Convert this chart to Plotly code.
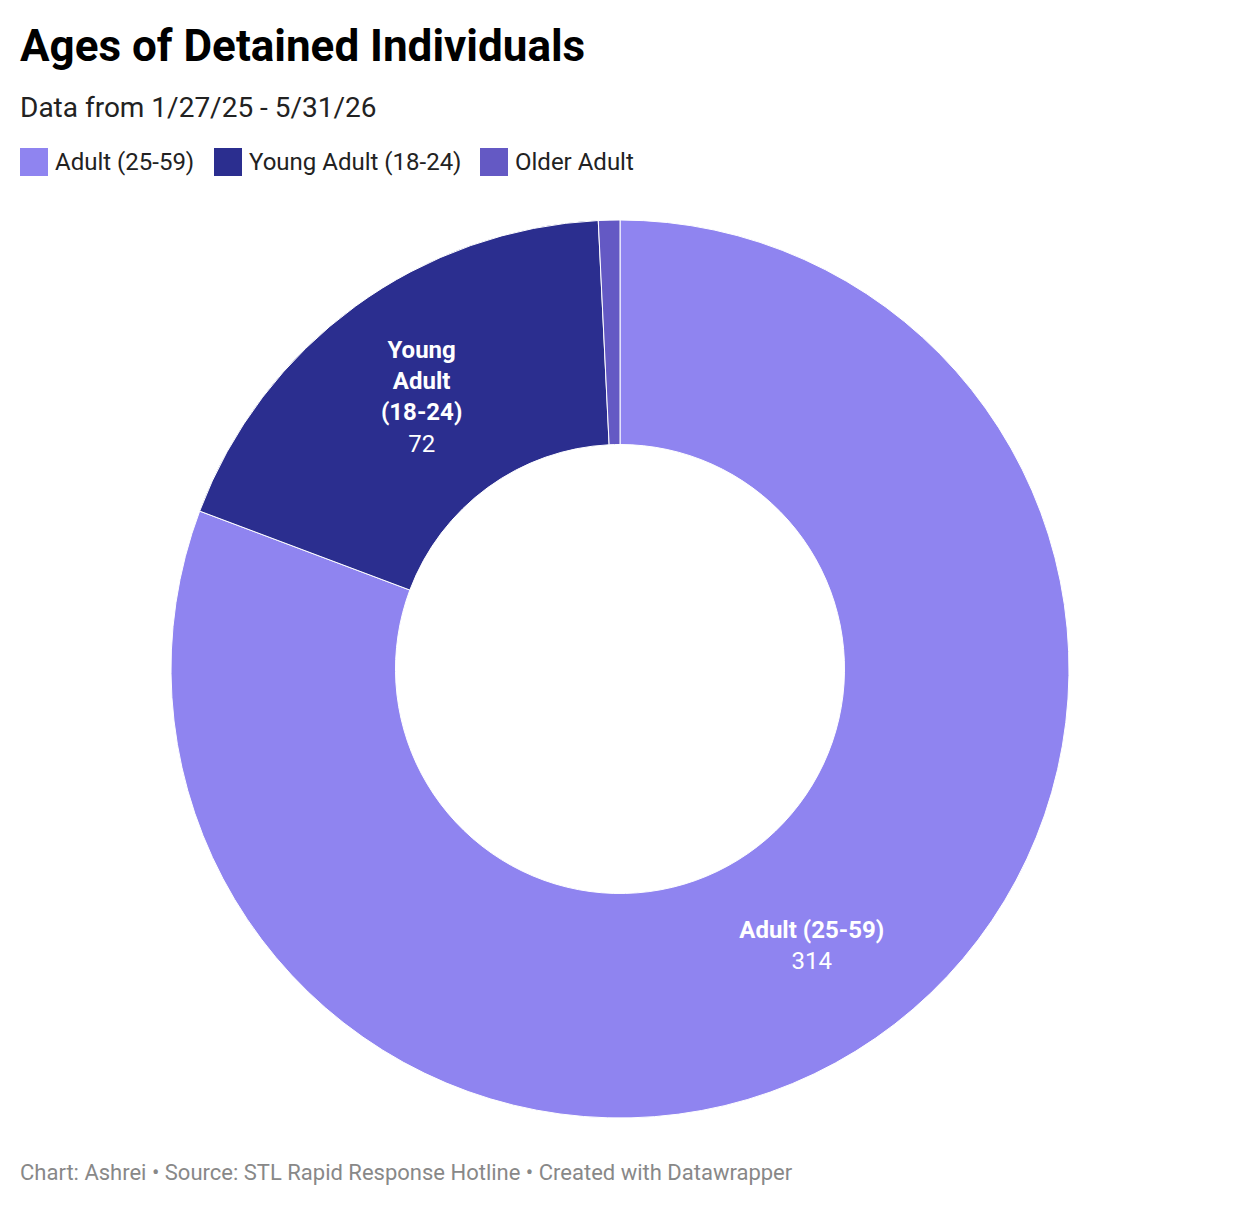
import plotly.graph_objects as go

labels = ["Adult (25-59)", "Young Adult (18-24)", "Older Adult"]
values = [314, 72, 3]
colors = ["#8f84f0", "#2b2e8f", "#6459c4"]
slice_text = ["<b>Adult (25-59)</b><br>314", "<b>Young<br>Adult<br>(18-24)</b><br>72", ""]

W, H = 1240, 1206
OFF = 8  # page body margin


def px(x):
    return (x - OFF) / W


def py(y):
    return 1 - (y - OFF) / H


cx, cy, r = 620, 669, 449

fig = go.Figure(go.Pie(
    labels=labels, values=values, sort=False, direction="clockwise", rotation=0,
    hole=0.5, marker=dict(colors=colors, line=dict(color="white", width=1)),
    text=slice_text, textinfo="text", textposition="inside",
    insidetextorientation="horizontal",
    textfont=dict(family="Roboto", size=24, color="white"),
    hoverinfo="label+value", showlegend=False,
    domain=dict(x=[px(cx - r), px(cx + r)], y=[py(cy + r), py(cy - r)]),
))

# legend drawn as squares + labels (Datawrapper style)
legend_x = [20, 214, 480]
shapes, annotations = [], []
for lab, col, x0 in zip(labels, colors, legend_x):
    shapes.append(dict(type="rect", xref="paper", yref="paper",
                       x0=px(x0), x1=px(x0 + 28), y0=py(176), y1=py(148),
                       fillcolor=col, line=dict(width=0)))
    annotations.append(dict(text=lab, x=px(x0 + 33), y=py(162), xref="paper", yref="paper",
                            xanchor="left", yanchor="middle", showarrow=False,
                            font=dict(size=24, color="#222")))

annotations += [
    dict(text="<b>Ages of Detained Individuals</b>", x=px(18), y=py(46), xref="paper", yref="paper",
         xanchor="left", yanchor="middle", showarrow=False, font=dict(size=44, color="#000")),
    dict(text="Data from 1/27/25 - 5/31/26", x=px(18), y=py(107), xref="paper", yref="paper",
         xanchor="left", yanchor="middle", showarrow=False, font=dict(size=28, color="#222")),
    dict(text="Chart: Ashrei • Source: STL Rapid Response Hotline • Created with Datawrapper",
         x=px(18), y=py(1172), xref="paper", yref="paper",
         xanchor="left", yanchor="middle", showarrow=False, font=dict(size=22, color="#888")),
]

fig.update_layout(
    width=W, height=H, margin=dict(l=0, r=0, t=0, b=0),
    paper_bgcolor="white", plot_bgcolor="white",
    font=dict(family="Roboto", color="#181818"),
    shapes=shapes, annotations=annotations,
)

fig.write_html("out.html")
